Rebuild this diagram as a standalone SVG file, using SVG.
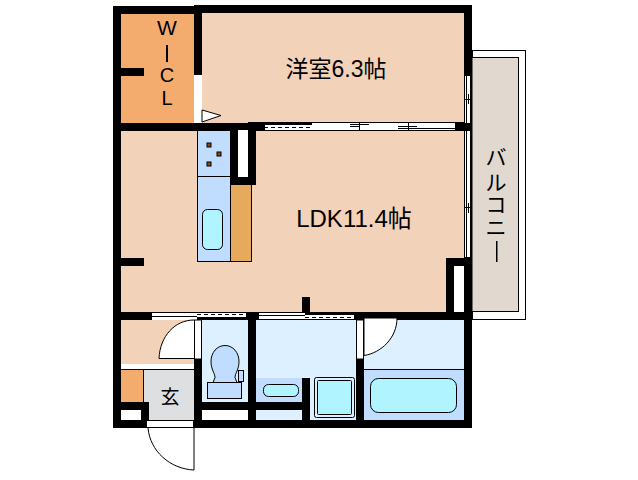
<svg xmlns="http://www.w3.org/2000/svg" width="638" height="480" viewBox="0 0 638 480">
<style>
.w{fill:#000}
.o{fill:#fff}
.l{fill:none;stroke:#000;stroke-width:1}
.lb{fill:#fff;stroke:#000;stroke-width:1}
.d{stroke:#000;stroke-width:1;stroke-dasharray:4 3;fill:none}
.t{font-family:"Liberation Sans","Noto Sans CJK JP",sans-serif;fill:#000}
.tub{fill:#b0f4ff;stroke:#000;stroke-width:1}
.blue{fill:#c0ddff;stroke:#000;stroke-width:1}
</style>
<rect width="638" height="480" fill="#fff"/>
<g id="balcony">
<rect x="472.500" y="50.500" width="53" height="269" class="lb"/>
<rect x="472" y="57.500" width="46.500" height="254" fill="#e1d8cf" stroke="#000"/>
<text class="t" x="496" y="165" font-size="21" text-anchor="middle">バ</text>
<text class="t" x="496" y="190" font-size="21" text-anchor="middle">ル</text>
<text class="t" x="496" y="212" font-size="21" text-anchor="middle">コ</text>
<text class="t" x="496" y="235" font-size="21" text-anchor="middle">ニ</text>
<rect x="496" y="241" width="1.500" height="21" fill="#000"/>
</g>
<g id="wic">
<rect x="121" y="14" width="73" height="109" fill="#f4ab6e"/>
<text class="t" x="167" y="35" font-size="21" text-anchor="middle">W</text>
<rect x="166" y="45" width="2" height="17" fill="#000"/>
<text class="t" x="167" y="82" font-size="20" text-anchor="middle">C</text>
<text class="t" x="167" y="105" font-size="20" text-anchor="middle">L</text>
</g>
<g id="bedroom">
<rect x="202" y="13" width="262" height="110" fill="#f2d2b8"/>
<text class="t" x="336" y="77" font-size="23" text-anchor="middle">洋室6.3帖</text>
</g>
<g id="ldk">
<rect x="121" y="130" width="343" height="182" fill="#f2d2b8"/>
<text class="t" x="354" y="227" font-size="24" text-anchor="middle">LDK11.4帖</text>
</g>
<g id="kitchen">
<rect x="197.500" y="130.500" width="33" height="131" fill="#c0ddff" stroke="#000"/>
<line x1="197" y1="176.500" x2="231" y2="176.500" stroke="#000"/>
<rect x="207" y="143" width="4" height="4" fill="#8a4a10" stroke="#000"/>
<rect x="217" y="152" width="4" height="4" fill="#8a4a10" stroke="#000"/>
<rect x="207" y="162" width="4" height="4" fill="#8a4a10" stroke="#000"/>
<rect x="202.500" y="209.500" width="20" height="40" rx="5" class="tub"/>
<rect x="230.500" y="184.500" width="21" height="77" fill="#e6aa5c" stroke="#000"/>
</g>
<g id="hall">
<rect x="121" y="320" width="73" height="44" fill="#f2d2b8"/>
<rect x="121" y="370" width="23" height="32" fill="#f4ab6e"/>
<rect x="144" y="370" width="50" height="50" fill="#dddfe1"/>
<line x1="121" y1="369.500" x2="194" y2="369.500" stroke="#000"/>
<line x1="143.500" y1="370" x2="143.500" y2="402" stroke="#000"/>
<text class="t" x="170" y="404" font-size="19" text-anchor="middle">玄</text>
</g>
<g id="toilet">
<rect x="202" y="320" width="46" height="82" fill="#ddf0ff"/>
<path d="M225 345.500c-8 0-14 7-14 16 0 8 4 12 4 16l-2 5h24l-2-5c0-4 4-8 4-16 0-9-6-16-14-16z" class="blue"/>
<rect x="207.500" y="382.500" width="34" height="16" class="blue"/>
<rect x="238.500" y="370.500" width="5" height="11" class="blue"/>
</g>
<g id="washroom">
<rect x="256" y="320" width="100" height="100" fill="#ddf0ff"/>
<rect x="256" y="378" width="46" height="24" fill="#c0ddff"/>
<rect x="263.500" y="384.500" width="35" height="12" rx="5" class="tub"/>
<rect x="310" y="378" width="46" height="42" fill="#ddf0ff"/>
<rect x="314.500" y="377.500" width="40" height="40" rx="2" fill="none" stroke="#000"/>
<rect x="317.500" y="380.500" width="34" height="34" rx="1" class="tub"/>
</g>
<g id="bath">
<rect x="364" y="320" width="100" height="100" fill="#ddf0ff"/>
<rect x="364" y="369" width="100" height="51" fill="#c0ddff"/>
<line x1="364" y1="369.500" x2="464" y2="369.500" stroke="#000"/>
<rect x="370.500" y="378.500" width="86" height="34" rx="8" class="tub"/>
</g>
<g id="walls">
<rect class="w" x="113" y="6" width="89" height="8"/>
<rect class="w" x="194" y="5" width="278" height="8"/>
<rect class="w" x="113" y="6" width="8" height="422"/>
<rect class="w" x="194" y="5" width="8" height="118"/>
<rect class="w" x="464" y="5" width="8" height="423"/>
<rect class="w" x="121" y="68" width="23" height="8"/>
<rect class="w" x="113" y="123" width="137" height="8"/>
<rect class="w" x="248" y="122" width="16" height="9"/>
<rect class="w" x="456" y="122" width="16" height="9"/>
<rect class="o" x="238" y="130" width="10" height="47"/>
<rect class="w" x="230" y="130" width="8" height="55"/>
<rect class="w" x="248" y="130" width="8" height="55"/>
<rect class="w" x="230" y="177" width="26" height="8"/>
<rect class="w" x="121" y="258" width="23" height="8"/>
<rect class="w" x="446" y="258" width="26" height="62"/>
<rect class="o" x="454" y="266" width="10" height="46"/>
<rect class="w" x="302" y="297" width="8" height="16"/>
<rect class="w" x="113" y="312" width="38" height="8"/>
<rect class="w" x="197" y="317" width="59" height="3"/>
<rect class="w" x="246" y="312" width="12" height="8"/>
<rect class="w" x="354" y="312" width="118" height="8"/>
<rect class="w" x="194" y="359" width="8" height="69"/>
<rect class="w" x="248" y="312" width="8" height="116"/>
<rect class="w" x="302" y="378" width="8" height="50"/>
<rect class="w" x="356" y="359" width="8" height="69"/>
<rect class="w" x="121" y="402" width="28" height="8"/>
<rect class="w" x="141" y="402" width="8" height="18"/>
<rect class="w" x="202" y="402" width="46" height="8"/>
<rect class="w" x="256" y="402" width="46" height="8"/>
<rect class="w" x="113" y="420" width="36" height="8"/>
<rect class="w" x="194" y="420" width="278" height="8"/>
</g>
<g id="connectors">
<rect class="o" x="194" y="75" width="8" height="48"/>
<path d="M202 110 L221 115.500 L202 122Z" class="lb"/>
<rect x="264.500" y="122.500" width="191" height="8" class="lb"/>
<rect class="w" x="255" y="122" width="57" height="3"/>
<path d="M264 127.500H310" class="d"/>
<path d="M350 126.500H360M350 124.500H369M359.500 122V130M398 128.500H456M398 126.500H417M408.500 122V130" class="l"/>
<rect x="464.500" y="75.500" width="7" height="48" class="lb"/>
<rect x="464.500" y="130.500" width="7" height="127" class="lb"/>
<path d="M466.500 75V124M470.500 75V124M466.500 130V257M470.500 130V257M465 99.500H472M468.500 94V104M465 207.500H472M468.500 203V213" class="l"/>
<path d="M151 312.500H246M151 316.500H197M151.500 312V320" class="l"/>
<path d="M197 314.500H246" class="d"/>
<path d="M258 312.500H305M258 315.500H305M258.500 312V320" class="l"/>
<rect class="o" x="259" y="316" width="95" height="3"/>
<rect class="w" x="305" y="312" width="49" height="3"/>
<rect class="w" x="258" y="319" width="96" height="1"/>
<path d="M305 317.500H354" class="d"/>
<rect x="194.500" y="320" width="7" height="39" class="lb"/>
<path d="M194 358.500H159C160 336 175 320 194 320" class="lb"/>
<rect x="356.500" y="320" width="7" height="39" class="lb"/>
<path d="M364 355.500C381 353 397 338 397 318H364Z" class="lb"/>
<rect x="146.500" y="420.500" width="47" height="7" class="lb"/>
<path d="M194 428V470M148 428C150 451 170 469 194 470" fill="#fff" stroke="#000"/>
</g>
</svg>
